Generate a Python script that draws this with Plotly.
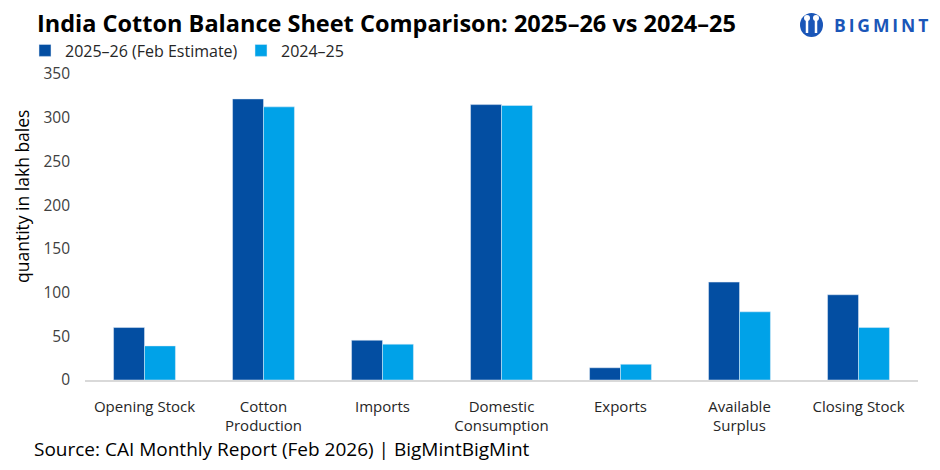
import plotly.graph_objects as go

categories = ["Opening Stock", "Cotton<br>Production", "Imports", "Domestic<br>Consumption",
              "Exports", "Available<br>Surplus", "Closing Stock"]
values_2025_26 = [60.0, 321.5, 45.5, 315.0, 14.0, 112.0, 97.5]
values_2024_25 = [39.0, 312.4, 41.0, 314.0, 18.0, 78.0, 60.0]
series_names = ["2025–26 (Feb Estimate)", "2024–25"]
y_ticks = [0, 50, 100, 150, 200, 250, 300, 350]

FONT = "Open Sans"
DARK = "#034EA2"
LIGHT = "#00A2E8"
OFF = 8  # page body margin in the browser

W, H = 940, 470
PL, PR, PT, PB = 85 - OFF, 918 - OFF, 74 - OFF, 380 - OFF
PW, PH = PR - PL, PB - PT


def px(x):  # target-picture x -> x domain fraction
    return (x - OFF - PL) / PW


def py(y):  # target-picture y -> y domain fraction
    return (PB - (y - OFF)) / PH


fig = go.Figure()
fig.add_trace(go.Bar(x=categories, y=values_2025_26, name=series_names[0], marker_color=DARK))
fig.add_trace(go.Bar(x=categories, y=values_2024_25, name=series_names[1], marker_color=LIGHT))

fig.update_layout(
    width=W, height=H,
    margin=dict(l=PL, r=W - PR, t=PT, b=H - PB),
    paper_bgcolor="white", plot_bgcolor="white",
    barmode="group", bargap=0.48, bargroupgap=0,
    font=dict(family=FONT, size=15, color="#404040"),
    showlegend=True,
    legend=dict(orientation="h", x=px(25), xref="paper", y=py(50.5), yref="paper",
                xanchor="left", yanchor="middle", font=dict(size=16, color="#262626"),
                itemwidth=30, traceorder="normal", entrywidth=171,
                bgcolor="rgba(0,0,0,0)"),
    title=dict(text="<b>India Cotton Balance Sheet Comparison: 2025–26 vs 2024–25</b>",
               x=(37 - OFF) / W, xanchor="left", y=1 - (23.5 - OFF) / H, yanchor="middle",
               xref="container", yref="container",
               font=dict(size=23.5, color="#000000", family=FONT)),
)
fig.update_xaxes(showline=True, linecolor="#d9d9d9", linewidth=1.5, showgrid=False,
                 ticks="", ticklabelstandoff=12, tickfont=dict(size=15, color="#262626"))
fig.update_yaxes(range=[0, 350], tickvals=y_ticks, showgrid=False, zeroline=False,
                 showline=False, ticks="", ticklabelstandoff=14,
                 tickfont=dict(size=15.5, color="#404040"))

fig.add_annotation(text="quantity in lakh bales", textangle=-90, xref="x domain", yref="y domain",
                   x=px(22), y=py(197), xanchor="center", yanchor="middle",
                   showarrow=False, font=dict(size=17.5, color="#000000"))

fig.add_annotation(text="Source: CAI Monthly Report (Feb 2026) | BigMintBigMint",
                   xref="x domain", yref="y domain", x=px(32), y=py(448.5),
                   xanchor="left", yanchor="middle", showarrow=False,
                   font=dict(size=19, color="#000000"))

# logo
fig.add_shape(type="circle", xref="x domain", yref="y domain", x0=px(800), x1=px(823),
              y0=py(13), y1=py(37), fillcolor="#1A56B8", line=dict(width=0))
for lx in (807, 816):
    fig.add_shape(type="line", xref="x domain", yref="y domain", x0=px(lx), x1=px(lx),
                  y0=py(20), y1=py(33), line=dict(color="white", width=2.5))
fig.add_shape(type="circle", xref="x domain", yref="y domain", x0=px(804), x1=px(810),
              y0=py(15), y1=py(21), fillcolor="white", line=dict(width=0))
fig.add_shape(type="circle", xref="x domain", yref="y domain", x0=px(813), x1=px(819),
              y0=py(15), y1=py(21), fillcolor="white", line=dict(width=0))
fig.add_annotation(text="<b>B\u2009I\u2009G\u2009M\u2009I\u2009N\u2009T</b>", xref="x domain", yref="y domain",
                   x=px(832), y=py(25), xanchor="left", yanchor="middle",
                   showarrow=False, font=dict(size=17.5, color="#1A56B8", family="Open Sans"))

fig.write_html("out.html")
